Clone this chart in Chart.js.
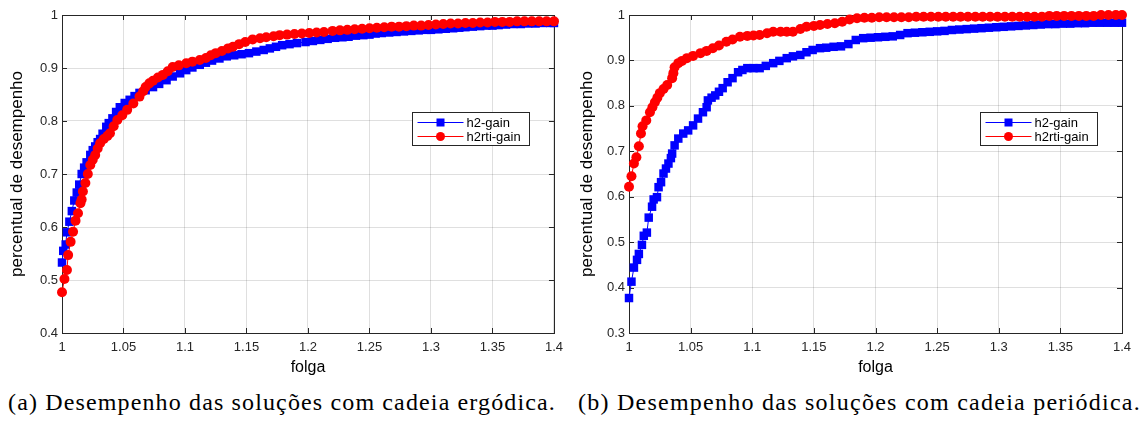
<!DOCTYPE html>
<html>
<head>
<meta charset="utf-8">
<script src="https://cdn.jsdelivr.net/npm/chart.js@4/dist/chart.umd.min.js"></script>
<style>
  body { margin: 0; background: #fff; width: 1145px; height: 426px; overflow: hidden; position: relative; }
  .plot { position: absolute; top: 0; height: 380px; }
  #boxA { left: 0; width: 570px; }
  #boxB { left: 570px; width: 575px; }
  .caption { position: absolute; top: 389px; font-family: "Liberation Serif", "Times New Roman", serif; font-size: 24px; color: #000; white-space: nowrap; }
</style>
</head>
<body>
<div class="plot" id="boxA"><canvas id="chartA"></canvas></div>
<div class="plot" id="boxB"><canvas id="chartB"></canvas></div>
<span class="caption" id="capA">(a) Desempenho das soluções com cadeia ergódica.</span>
<span class="caption" id="capB">(b) Desempenho das soluções com cadeia periódica.</span>
<script>
// (a) cadeia ergódica
const ergH2X = [1.000,1.001,1.003,1.004,1.006,1.008,1.010,1.012,1.014,1.016,1.018,1.020,1.023,1.025,1.027,1.029,1.031,1.033,1.036,1.038,
  1.041,1.044,1.047,1.051,1.055,1.059,1.063,1.068,1.074,1.079,1.085,1.090,1.096,1.101,1.106,1.112,1.117,1.122,1.128,1.134,
  1.140,1.146,1.152,1.158,1.164,1.169,1.174,1.179,1.185,1.191,1.198,1.204,1.210,1.216,1.222,1.228,1.233,1.239,1.245,1.250,
  1.255,1.260,1.266,1.272,1.278,1.284,1.290,1.296,1.300,1.306,1.312,1.318,1.323,1.328,1.334,1.340,1.345,1.350,1.355,1.361,
  1.367,1.373,1.379,1.385,1.391,1.397,1.400];
const ergH2Y = [0.533,0.555,0.567,0.590,0.610,0.630,0.650,0.665,0.680,0.700,0.712,0.722,0.736,0.745,0.752,0.760,0.766,0.776,0.789,0.796,
  0.805,0.817,0.826,0.834,0.840,0.847,0.853,0.858,0.864,0.870,0.877,0.884,0.890,0.896,0.901,0.906,0.910,0.914,0.918,0.922,
  0.924,0.926,0.928,0.931,0.934,0.937,0.940,0.943,0.945,0.947,0.949,0.951,0.953,0.955,0.957,0.958,0.959,0.961,0.962,0.963,
  0.965,0.966,0.967,0.968,0.969,0.970,0.971,0.972,0.972,0.973,0.974,0.975,0.976,0.977,0.978,0.979,0.980,0.980,0.981,0.982,
  0.983,0.983,0.984,0.984,0.985,0.985,0.985];
const ergRtiX = [1.000,1.002,1.004,1.005,1.007,1.009,1.011,1.013,1.015,1.016,1.017,1.019,1.021,1.023,1.025,1.027,1.029,1.031,1.034,1.037,
  1.039,1.042,1.045,1.049,1.053,1.058,1.063,1.066,1.068,1.071,1.074,1.078,1.082,1.086,1.090,1.095,1.101,1.106,1.112,1.117,
  1.121,1.125,1.130,1.135,1.139,1.144,1.149,1.155,1.161,1.166,1.172,1.177,1.183,1.189,1.195,1.201,1.207,1.213,1.220,1.226,
  1.232,1.238,1.244,1.250,1.256,1.262,1.268,1.274,1.280,1.286,1.292,1.298,1.304,1.310,1.316,1.322,1.328,1.334,1.340,1.346,
  1.352,1.358,1.364,1.370,1.376,1.382,1.388,1.394,1.400];
const ergRtiY = [0.477,0.502,0.519,0.547,0.572,0.591,0.612,0.626,0.645,0.652,0.667,0.683,0.700,0.717,0.727,0.736,0.748,0.758,0.766,0.772,
  0.777,0.790,0.802,0.811,0.821,0.833,0.846,0.856,0.864,0.871,0.876,0.882,0.887,0.894,0.902,0.905,0.909,0.912,0.915,0.919,
  0.924,0.928,0.932,0.937,0.940,0.945,0.949,0.954,0.956,0.958,0.960,0.962,0.963,0.964,0.965,0.966,0.967,0.968,0.970,0.971,
  0.972,0.973,0.974,0.975,0.976,0.977,0.978,0.978,0.979,0.980,0.980,0.981,0.982,0.983,0.984,0.984,0.985,0.985,0.986,0.986,
  0.987,0.987,0.987,0.988,0.988,0.988,0.988,0.988,0.988];

// (b) cadeia periódica
const perH2X = [1.000,1.002,1.004,1.0065,1.008,1.0105,1.012,1.0145,1.016,1.0187,1.020,1.0227,1.024,1.026,1.028,1.030,1.032,1.034,1.035,1.037,
  1.040,1.044,1.048,1.052,1.056,1.060,1.063,1.064,1.067,1.070,1.073,1.076,1.080,1.084,1.0885,1.092,1.096,1.101,1.106,1.111,
  1.117,1.122,1.128,1.133,1.139,1.144,1.149,1.155,1.160,1.166,1.172,1.178,1.184,1.190,1.196,1.202,1.208,1.214,1.220,1.226,
  1.232,1.238,1.244,1.250,1.256,1.262,1.268,1.274,1.280,1.286,1.292,1.298,1.304,1.310,1.316,1.322,1.328,1.334,1.340,1.346,
  1.352,1.358,1.364,1.370,1.376,1.382,1.388,1.394,1.400];
const perH2Y = [0.377,0.413,0.444,0.461,0.474,0.494,0.514,0.521,0.554,0.578,0.594,0.599,0.621,0.632,0.651,0.662,0.673,0.685,0.695,0.713,
  0.728,0.739,0.746,0.757,0.772,0.786,0.797,0.812,0.818,0.823,0.831,0.839,0.852,0.861,0.874,0.879,0.883,0.883,0.883,0.888,
  0.894,0.899,0.905,0.909,0.912,0.918,0.923,0.927,0.928,0.930,0.931,0.936,0.945,0.949,0.950,0.951,0.952,0.953,0.956,0.960,
  0.961,0.962,0.963,0.964,0.965,0.967,0.968,0.969,0.970,0.971,0.972,0.973,0.974,0.975,0.976,0.977,0.978,0.979,0.980,0.980,
  0.981,0.981,0.982,0.982,0.983,0.983,0.983,0.983,0.983];
const perRtiX = [1.000,1.002,1.004,1.006,1.008,1.0097,1.011,1.014,1.017,1.019,1.021,1.023,1.025,1.028,1.031,1.035,1.036,1.037,1.040,1.043,
  1.047,1.052,1.058,1.063,1.068,1.073,1.079,1.084,1.090,1.096,1.101,1.106,1.112,1.117,1.123,1.128,1.133,1.139,1.144,1.150,
  1.155,1.161,1.167,1.173,1.179,1.185,1.191,1.197,1.203,1.209,1.215,1.221,1.227,1.233,1.239,1.245,1.251,1.257,1.263,1.269,
  1.275,1.281,1.287,1.293,1.299,1.305,1.311,1.317,1.323,1.329,1.335,1.341,1.347,1.353,1.359,1.365,1.371,1.377,1.383,1.389,
  1.395,1.400];
const perRtiY = [0.622,0.645,0.673,0.687,0.711,0.739,0.755,0.768,0.786,0.797,0.808,0.818,0.828,0.837,0.846,0.861,0.872,0.885,0.894,0.899,
  0.905,0.910,0.916,0.921,0.927,0.933,0.941,0.946,0.952,0.954,0.955,0.956,0.960,0.963,0.963,0.963,0.963,0.969,0.974,0.976,
  0.978,0.980,0.982,0.985,0.990,0.993,0.994,0.994,0.995,0.995,0.995,0.995,0.995,0.996,0.996,0.996,0.996,0.996,0.996,0.996,
  0.996,0.996,0.996,0.996,0.996,0.996,0.996,0.996,0.996,0.996,0.996,0.998,0.998,0.998,0.998,0.998,0.998,0.998,1.000,1.000,
  1.000,1.000];

const xTicks = [1, 1.05, 1.1, 1.15, 1.2, 1.25, 1.3, 1.35, 1.4];
const seriesNames = ["h2-gain", "h2rti-gain"];

const axisColor = "#262626";
const gridColor = "rgba(38,38,38,0.15)";
const blue = "#0000ff";
const red = "#ff0000";

function toPoints(xs, ys) {
  return xs.map((x, i) => ({ x: x, y: ys[i] }));
}

// box around axes with inward ticks, MATLAB style
const boxPlugin = {
  id: "box",
  beforeDatasetsDraw(chart) {
    const { ctx, chartArea: a, scales } = chart;
    ctx.save();
    ctx.strokeStyle = axisColor;
    ctx.lineWidth = 1;
    ctx.strokeRect(Math.round(a.left) + 0.5, Math.round(a.top) + 0.5,
      Math.round(a.right - a.left), Math.round(a.bottom - a.top));
    ctx.beginPath();
    scales.x.ticks.forEach(t => {
      const px = Math.round(scales.x.getPixelForValue(t.value)) + 0.5;
      ctx.moveTo(px, a.bottom); ctx.lineTo(px, a.bottom - 5);
      ctx.moveTo(px, a.top); ctx.lineTo(px, a.top + 5);
    });
    scales.y.ticks.forEach(t => {
      const py = Math.round(scales.y.getPixelForValue(t.value)) + 0.5;
      ctx.moveTo(a.left, py); ctx.lineTo(a.left + 5, py);
      ctx.moveTo(a.right, py); ctx.lineTo(a.right - 5, py);
    });
    ctx.stroke();
    ctx.restore();
  }
};

const legendPlugin = {
  id: "boxLegend",
  afterDraw(chart) {
    const { ctx, chartArea: a } = chart;
    const left = Math.round(a.right - 142) + 0.5, top = 112.5, w = 117, h = 33;
    ctx.save();
    ctx.fillStyle = "#fff";
    ctx.fillRect(left, top, w, h);
    ctx.strokeStyle = axisColor;
    ctx.lineWidth = 1;
    ctx.strokeRect(left, top, w, h);
    const rows = [
      { name: seriesNames[0], color: blue, shape: "rect" },
      { name: seriesNames[1], color: red, shape: "circle" }
    ];
    rows.forEach((r, i) => {
      const y = top + 10 + i * 14;
      ctx.strokeStyle = r.color;
      ctx.beginPath();
      ctx.moveTo(left + 5, y); ctx.lineTo(left + 51, y);
      ctx.stroke();
      ctx.fillStyle = r.color;
      if (r.shape === "rect") {
        ctx.fillRect(left + 24, y - 4, 8, 8);
      } else {
        ctx.beginPath();
        ctx.arc(left + 28, y, 4.5, 0, Math.PI * 2);
        ctx.fill();
      }
      ctx.fillStyle = "#000";
      ctx.font = "13px 'Liberation Sans', Arial, sans-serif";
      ctx.textBaseline = "middle";
      ctx.fillText(r.name, left + 54, y + 1);
    });
    ctx.restore();
  }
};

function makeChart(id, h2, rti, yMin, yAxisWidth, padRight) {
  const tickFont = { family: "'Liberation Sans', Arial, sans-serif", size: 13 };
  return new Chart(document.getElementById(id), {
    type: "line",
    data: {
      datasets: [
        {
          label: seriesNames[0], data: h2, order: 1,
          borderColor: blue, backgroundColor: blue, borderWidth: 1,
          pointStyle: "rect", pointRadius: 6, pointBorderWidth: 0, clip: false
        },
        {
          label: seriesNames[1], data: rti, order: 0,
          borderColor: red, backgroundColor: red, borderWidth: 1,
          pointStyle: "circle", pointRadius: 5, pointBorderWidth: 0, clip: false
        }
      ]
    },
    options: {
      responsive: false,
      animation: false,
      layout: { padding: { top: 15, right: padRight, bottom: 0, left: 0 } },
      plugins: { legend: { display: false }, tooltip: { enabled: false } },
      scales: {
        x: {
          type: "linear", min: 1, max: 1.4,
          afterBuildTicks: s => { s.ticks = xTicks.map(v => ({ value: v })); },
          afterFit: s => { s.height = 47; },
          grid: { color: gridColor, drawTicks: false },
          border: { display: false },
          ticks: { color: axisColor, font: tickFont, padding: 7, maxRotation: 0,
            callback: v => String(+v.toFixed(2)) },
          title: { display: true, text: "folga", color: "#000",
            font: { family: "'Liberation Sans', Arial, sans-serif", size: 16 }, padding: { top: 0, bottom: 3 } }
        },
        y: {
          type: "linear", min: yMin, max: 1,
          ticks: { stepSize: 0.1, color: axisColor, font: tickFont, padding: 4,
            callback: v => String(+v.toFixed(1)) },
          afterFit: s => { s.width = yAxisWidth; },
          grid: { color: gridColor, drawTicks: false },
          border: { display: false },
          title: { display: true, text: "percentual de desempenho", color: "#000",
            font: { family: "'Liberation Sans', Arial, sans-serif", size: 17 }, padding: { top: 7, bottom: 0 } }
        }
      }
    },
    plugins: [boxPlugin, legendPlugin]
  });
}

const cA = document.getElementById("chartA");
cA.width = 570; cA.height = 380;
const cB = document.getElementById("chartB");
cB.width = 575; cB.height = 380;

makeChart("chartA", toPoints(ergH2X, ergH2Y), toPoints(ergRtiX, ergRtiY), 0.4, 62, 14);
makeChart("chartB", toPoints(perH2X, perH2Y), toPoints(perRtiX, perRtiY), 0.3, 59, 23);

// captions: fit to the printed width of the subfigure
function placeCaption(id, left, width) {
  const el = document.getElementById(id);
  const n = el.textContent.length;
  const w = el.getBoundingClientRect().width;
  el.style.letterSpacing = ((width - w) / n) + "px";
  el.style.left = left + "px";
}
placeCaption("capA", 8, 548);
placeCaption("capB", 578, 563);
</script>
</body>
</html>
